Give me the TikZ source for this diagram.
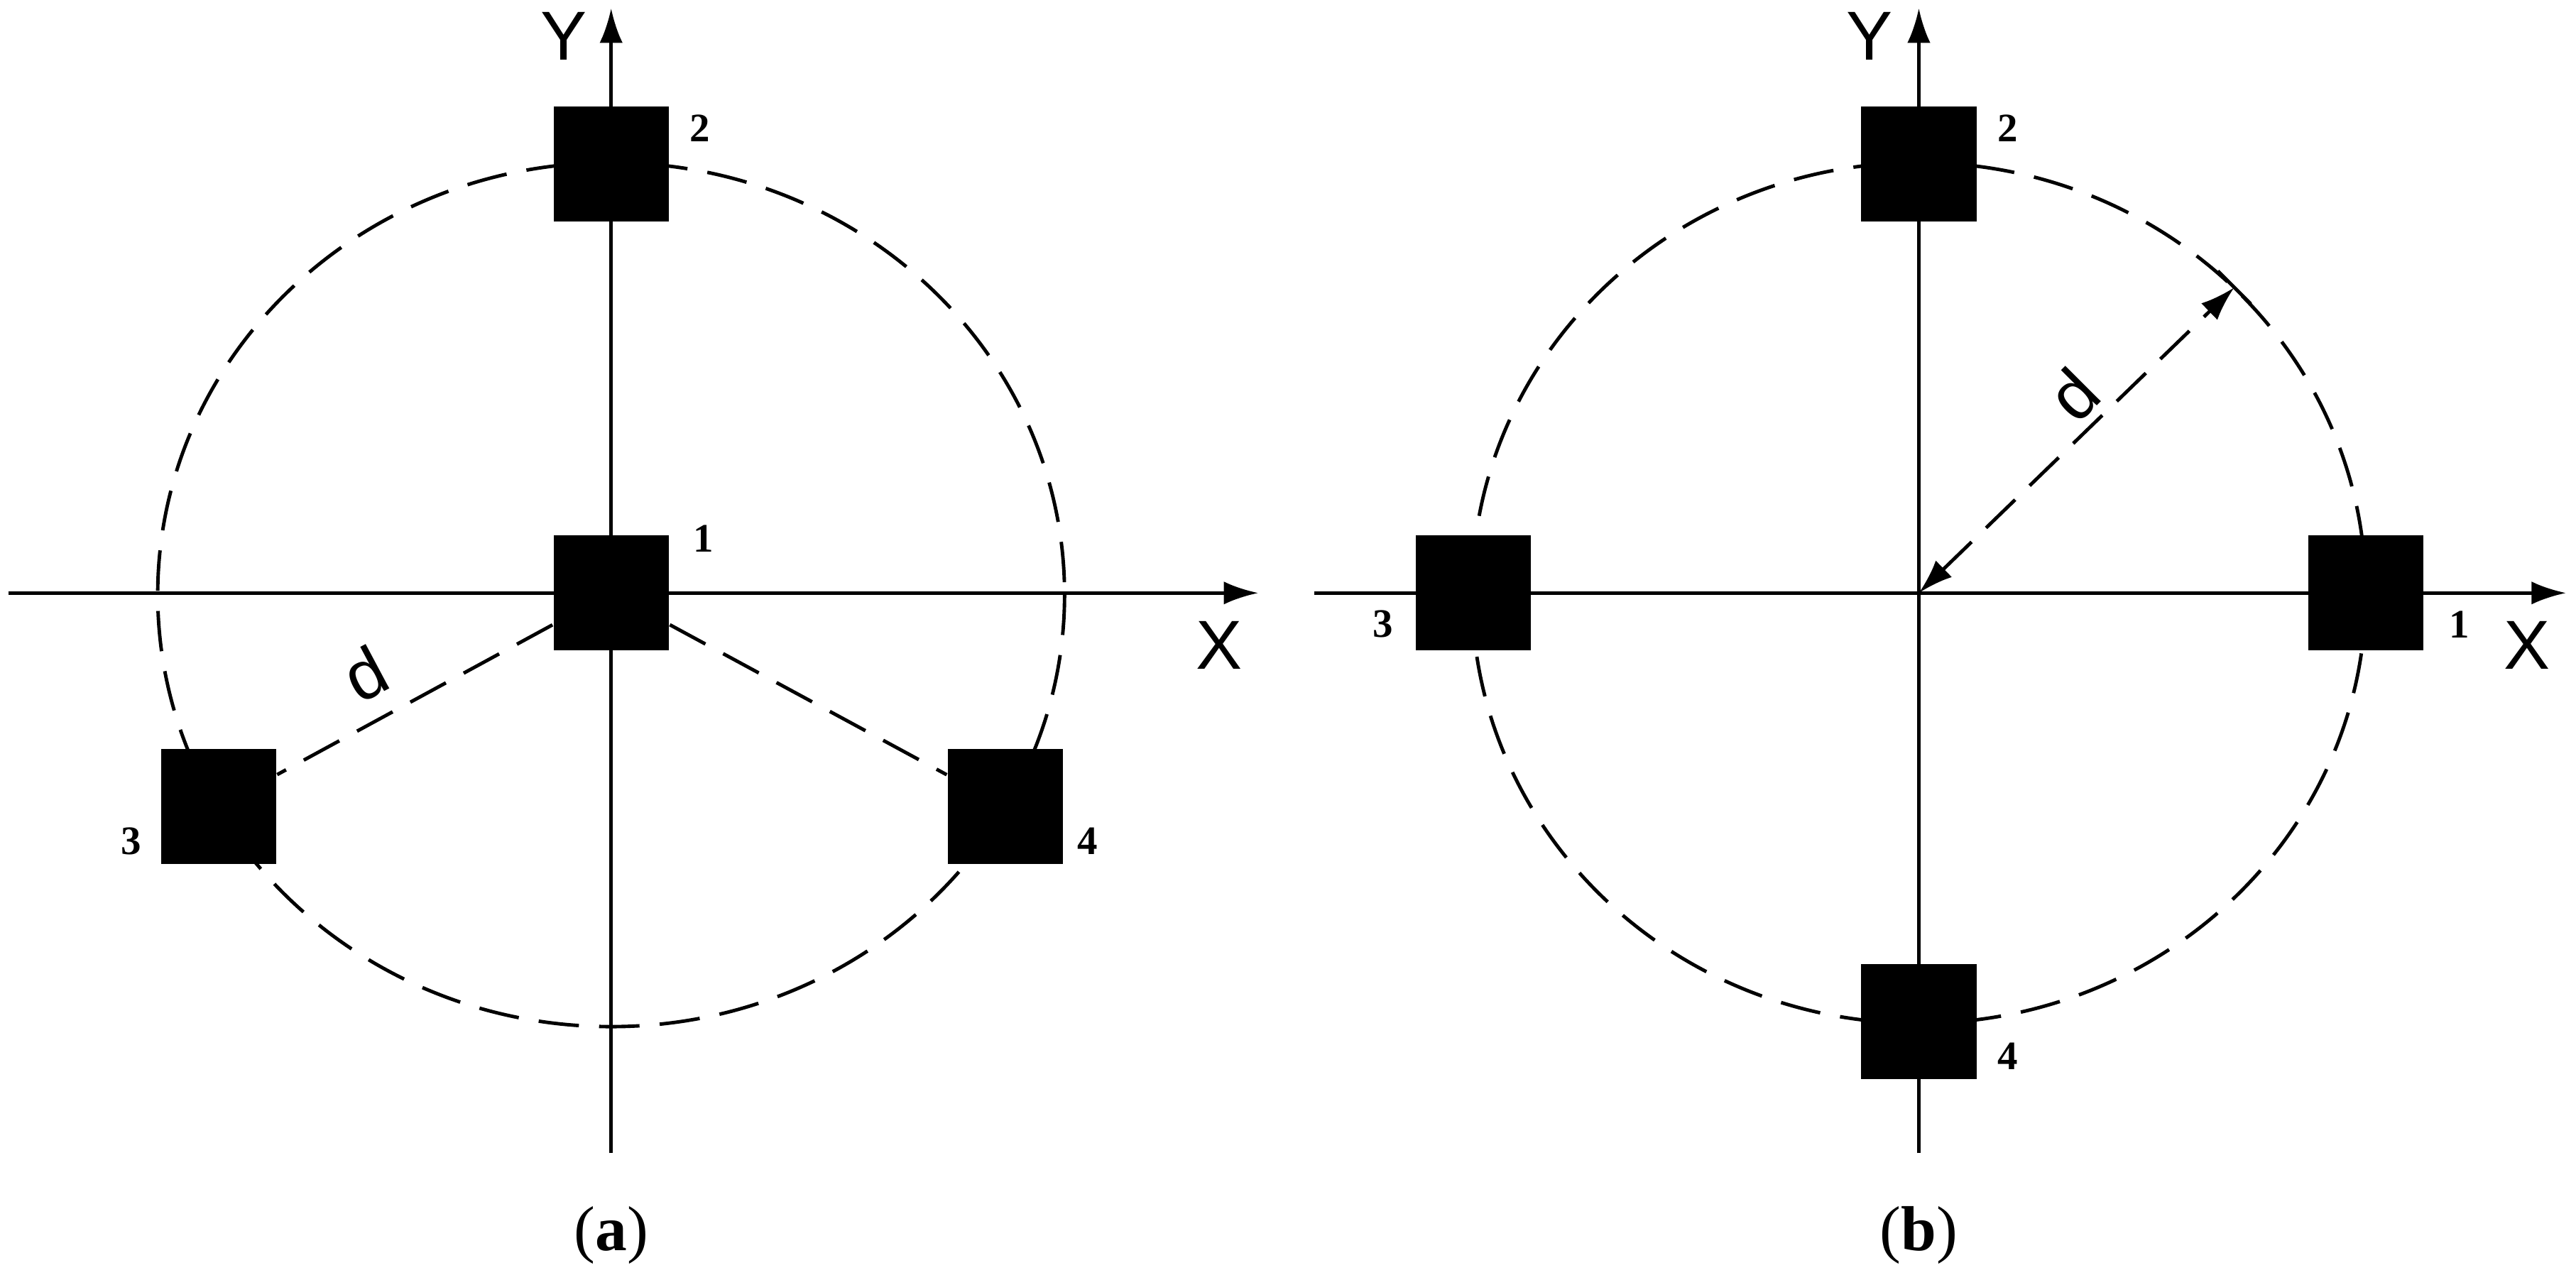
\documentclass[tikz,border=0pt]{standalone}
\usepackage{fontspec}
\setmainfont{Liberation Serif}
\setsansfont{Liberation Sans}
\usetikzlibrary{arrows.meta}
\begin{document}
\begin{tikzpicture}[x=0.01cm,y=-0.01cm,
  ax/.style={line width=0.6pt,-{Latex[length=6pt,width=4pt]}},
  dsh/.style={line width=0.6pt,dash pattern=on 7pt off 3.5pt},
  sq/.style={fill=black,minimum size=0.7cm,inner sep=0},
  num/.style={font=\fontsize{7}{8}\selectfont\bfseries},
  axl/.style={font=\sffamily\fontsize{12}{13}\selectfont},
  captxt/.style={font=\fontsize{11}{12}\selectfont}]
\useasboundingbox (0,0) rectangle (1568,779);
% ---- panel (a)
\draw[dsh] (372,362) ellipse [x radius=276, y radius=263];
\coordinate (ya0) at (372,702); \coordinate (ya1) at (372,5);
\coordinate (xa0) at (5,361); \coordinate (xa1) at (766,361);
\draw[ax] (ya0) -- (ya1);
\draw[ax] (xa0) -- (xa1);
\node[sq] (a1) at (372,361) {};
\node[sq] (a2) at (372,100) {};
\node[sq] (a3) at (133,491) {};
\node[sq] (a4) at (612,491) {};
\draw[dsh] (a1) -- (a3);
\draw[dsh] (a1) -- (a4);
\node[num] (la1) at (428,328) {1};
\node[num] (la2) at (426,78) {2};
\node[num] (la3) at (80,512) {3};
\node[num] (la4) at (662,512) {4};
\node[axl] (lax) at (742,393) {X};
\node[axl] (lay) at (343,22) {Y};
\node[axl,rotate=28] (lad) at (222,410) {d};
\node[captxt] (ca) at (372,752) {(\textbf{a})};
% ---- panel (b)
\draw[dsh] (1168,361) ellipse [x radius=272, y radius=262];
\coordinate (yb0) at (1168,702); \coordinate (yb1) at (1168,5);
\coordinate (xb0) at (800,361); \coordinate (xb1) at (1562,361);
\draw[ax] (yb0) -- (yb1);
\draw[ax] (xb0) -- (xb1);
\node[sq] (b2) at (1168,100) {};
\node[sq] (b1) at (1440,361) {};
\node[sq] (b3) at (897,361) {};
\node[sq] (b4) at (1168,622) {};
\coordinate (o) at (1168,361);
\coordinate (r) at (1360,175);
\draw[dsh,{Latex[length=6pt,width=4pt]}-{Latex[length=6pt,width=4pt]}] (o) -- (r);
\draw[line width=0.6pt] ([shift={(-10,-10)}]r) -- ([shift={(10,10)}]r);
\node[num] (lb1) at (1497,380) {1};
\node[num] (lb2) at (1222,78) {2};
\node[num] (lb3) at (842,380) {3};
\node[num] (lb4) at (1222,643) {4};
\node[axl] (lbx) at (1538,393) {X};
\node[axl] (lby) at (1138,22) {Y};
\node[axl,rotate=45] (lbd) at (1262,240) {d};
\node[captxt] (cb) at (1168,752) {(\textbf{b})};
\end{tikzpicture}
\end{document}
